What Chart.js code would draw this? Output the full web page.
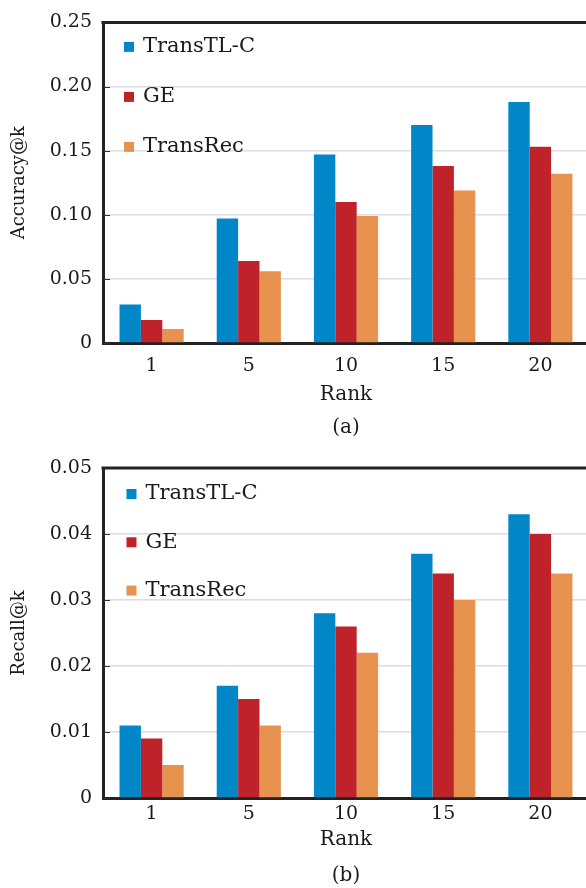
<!DOCTYPE html>
<html>
<head>
<meta charset="utf-8">
<script src="https://cdn.jsdelivr.net/npm/chart.js@4.4.1/dist/chart.umd.min.js"></script>
<style>
html, body { margin: 0; padding: 0; background: #fff; overflow: hidden; }
#wrap { position: relative; width: 586px; height: 888px; overflow: hidden; }
#chartA { position: absolute; left: 0; top: 0; }
#chartB { position: absolute; left: 0; top: 440px; }
</style>
</head>
<body>
<div id="wrap">
  <canvas id="chartA" width="592" height="444"></canvas>
  <canvas id="chartB" width="592" height="454"></canvas>
</div>
<script>
const ranks = ['1', '5', '10', '15', '20'];
const seriesNames = ['TransTL-C', 'GE', 'TransRec'];
const seriesColors = ['#0187c8', '#bf2228', '#e7924e'];

// (a) Accuracy@k
const accTransTL = [0.030, 0.097, 0.147, 0.170, 0.188];
const accGE = [0.018, 0.064, 0.110, 0.138, 0.153];
const accTransRec = [0.011, 0.056, 0.099, 0.119, 0.132];
const accTicks = ['0', '0.05', '0.10', '0.15', '0.20', '0.25'];

// (b) Recall@k
const recTransTL = [0.011, 0.017, 0.028, 0.037, 0.043];
const recGE = [0.009, 0.015, 0.026, 0.034, 0.040];
const recTransRec = [0.005, 0.011, 0.022, 0.030, 0.034];
const recTicks = ['0', '0.01', '0.02', '0.03', '0.04', '0.05'];

const FONT = 'DejaVu Serif';
const INK = '#1a1a1a';

// legend drawn inside the plot, top-left
const innerLegend = {
    id: 'innerLegend',
    afterDraw(chart, args, opts) {
        const ctx = chart.ctx;
        const area = chart.chartArea;
        ctx.save();
        ctx.font = '21px "' + FONT + '"';
        ctx.textBaseline = 'middle';
        chart.data.datasets.forEach((ds, i) => {
            const y = area.top + opts.top + i * opts.gap;
            const x = area.left + opts.left;
            ctx.fillStyle = ds.backgroundColor;
            ctx.fillRect(x, y - 5, 10, 10);
            ctx.fillStyle = INK;
            ctx.fillText(ds.label, x + 19, y);
        });
        ctx.restore();
    }
};

// top frame line + small inner ticks on the y axis
const frame = {
    id: 'frame',
    afterDraw(chart) {
        const ctx = chart.ctx;
        const area = chart.chartArea;
        const y = chart.scales.y;
        ctx.save();
        ctx.strokeStyle = '#333';
        ctx.lineWidth = 1;
        y.ticks.forEach((t, i) => {
            const py = Math.round(y.getPixelForTick(i)) + 0.5;
            ctx.beginPath();
            ctx.moveTo(area.left, py);
            ctx.lineTo(area.left + 7, py);
            ctx.stroke();
        });
        ctx.strokeStyle = '#222';
        ctx.lineWidth = 3;
        ctx.beginPath();
        ctx.moveTo(area.left - 1.5, area.top);
        ctx.lineTo(area.right + 5, area.top);
        ctx.stroke();
        ctx.restore();
    }
};

function makeChart(id, values, tickLabels, yMax, yStep, yTitle, caption, cfg) {
    const ctx = document.getElementById(id).getContext('2d');
    return new Chart(ctx, {
        type: 'bar',
        data: {
            labels: ranks,
            datasets: values.map((v, i) => ({
                label: seriesNames[i],
                data: v,
                backgroundColor: seriesColors[i],
                borderWidth: 0,
                categoryPercentage: 0.66,
                barPercentage: 1.0
            }))
        },
        options: {
            responsive: false,
            devicePixelRatio: 1,
            animation: false,
            layout: {
                padding: { left: 0, right: 3, top: cfg.top, bottom: 0 }
            },
            plugins: {
                legend: { display: false },
                tooltip: { enabled: false },
                innerLegend: cfg.legend
            },
            scales: {
                x: {
                    grid: { display: false, drawTicks: false },
                    border: { display: true, width: 3, color: '#222' },
                    ticks: {
                        color: INK,
                        font: { family: FONT, size: 19 },
                        padding: cfg.xTickPad
                    },
                    title: {
                        display: true,
                        text: ['Rank', caption],
                        color: INK,
                        font: { family: FONT, size: 20, lineHeight: cfg.titleLH + 'px' },
                        padding: { top: 0, bottom: 0 }
                    },
                    afterFit: (s) => { s.height = cfg.xHeight; }
                },
                y: {
                    min: 0,
                    max: yMax,
                    grid: { color: '#dcdce4', lineWidth: 1.5, drawTicks: false },
                    border: { display: true, width: 3, color: '#222' },
                    ticks: {
                        stepSize: yStep,
                        padding: 11,
                        color: INK,
                        font: { family: FONT, size: 19 },
                        callback: (v, i) => tickLabels[i]
                    },
                    title: {
                        display: true,
                        text: yTitle,
                        color: INK,
                        font: { family: FONT, size: 18 },
                        padding: { top: 9, bottom: 0 }
                    },
                    afterFit: (s) => { s.width = 103; }
                }
            }
        },
        plugins: [innerLegend, frame]
    });
}

makeChart('chartA', [accTransTL, accGE, accTransRec], accTicks, 0.25, 0.05,
    'Accuracy@k', '(a)',
    { top: 18, xHeight: 101, xTickPad: 12, titleLH: 33,
      legend: { left: 21, top: 24.5, gap: 50 } });

makeChart('chartB', [recTransTL, recGE, recTransRec], recTicks, 0.05, 0.01,
    'Recall@k', '(b)',
    { top: 28, xHeight: 96, xTickPad: 5, titleLH: 36,
      legend: { left: 23.5, top: 26, gap: 48.3 } });
</script>
</body>
</html>
